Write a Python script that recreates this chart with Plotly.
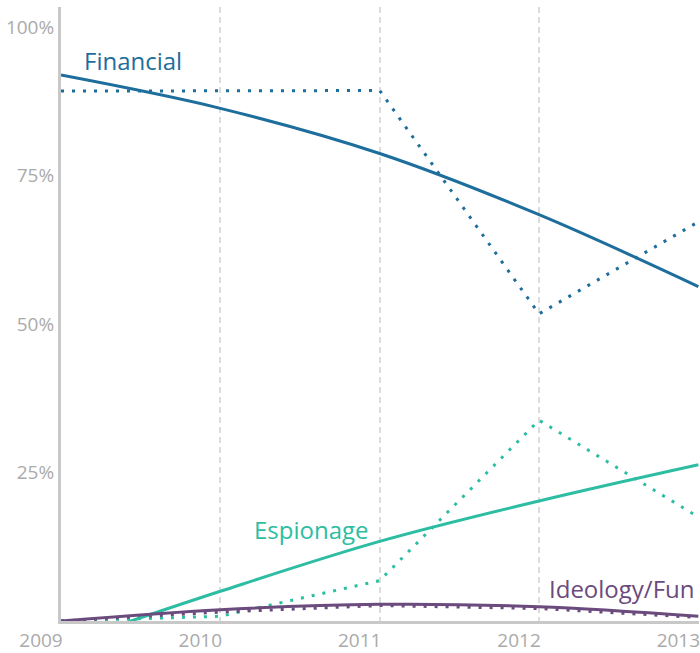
import plotly.graph_objects as go

years = [2009, 2010, 2011, 2012, 2013]

# observed yearly shares (%)
financial_actual = [89.2, 89.3, 89.3, 51.7, 67.2]
espionage_actual = [0.0, 0.8, 6.8, 33.8, 17.5]
ideology_actual = [0.0, 1.5, 2.6, 2.1, 0.6]

# smoothed trend values (%)
financial_trend = [91.9, 86.3, 78.7, 68.4, 56.3]
espionage_trend = [-4.0, 5.0, 13.4, 20.2, 26.3]
ideology_trend = [0.0, 1.9, 2.8, 2.4, 0.8]

series_names = ["Financial", "Espionage", "Ideology/Fun"]
colors = ["#1d6e9c", "#2dbda3", "#6b4a7d"]

# label anchor positions (data coords)
label_x = [2009.13, 2010.20, 2012.05]
label_y = [94.3, 15.4, 5.4]

y_ticks = [25, 50, 75, 100]
x_ticks = [2009, 2010, 2011, 2012, 2013]

actuals = [financial_actual, espionage_actual, ideology_actual]
trends = [financial_trend, espionage_trend, ideology_trend]

fig = go.Figure()
for name, col, act in zip(series_names, colors, actuals):
    fig.add_trace(go.Scatter(x=years, y=act, mode="lines", name=name + " actual",
                             line=dict(color=col, width=3, dash="3px,8px"),
                             hoverinfo="skip"))
for name, col, tr in zip(series_names, colors, trends):
    fig.add_trace(go.Scatter(x=years, y=tr, mode="lines", name=name + " trend",
                             line=dict(color=col, width=3, shape="spline", smoothing=1.0),
                             hoverinfo="skip"))

for name, col, lx, ly in zip(series_names, colors, label_x, label_y):
    fig.add_annotation(x=lx, y=ly, text=name, showarrow=False, xanchor="left", yanchor="middle",
                       font=dict(family="Open Sans", size=24, color=col))

fig.update_layout(
    width=700, height=653, autosize=False,
    margin=dict(l=61, r=0, t=7, b=30),
    paper_bgcolor="white", plot_bgcolor="white",
    showlegend=False,
    font=dict(family="Open Sans", color="#aaaaaa", size=19),
    xaxis=dict(range=[2009, 2013.004], tickvals=x_ticks, ticktext=[str(v) for v in x_ticks],
               showgrid=True, gridcolor="#dcdcdc", gridwidth=1.5, griddash="6px,4px",
               showline=True, linecolor="#c8c8c8", linewidth=3, zeroline=False,
               ticks="", ticklabelshift=-20, ticklabeloverflow="allow",
               tickfont=dict(size=19, color="#aaaaaa")),
    yaxis=dict(range=[0, 103.36], tickvals=y_ticks, ticktext=[f"{v}%" for v in y_ticks],
               showgrid=False, showline=True, linecolor="#c8c8c8", linewidth=3, zeroline=False,
               ticks="", tickfont=dict(size=19, color="#aaaaaa")),
)

fig.write_html("out.html", config={"displayModeBar": False},
               post_script="document.body.style.margin='0';document.body.style.overflow='hidden';")
